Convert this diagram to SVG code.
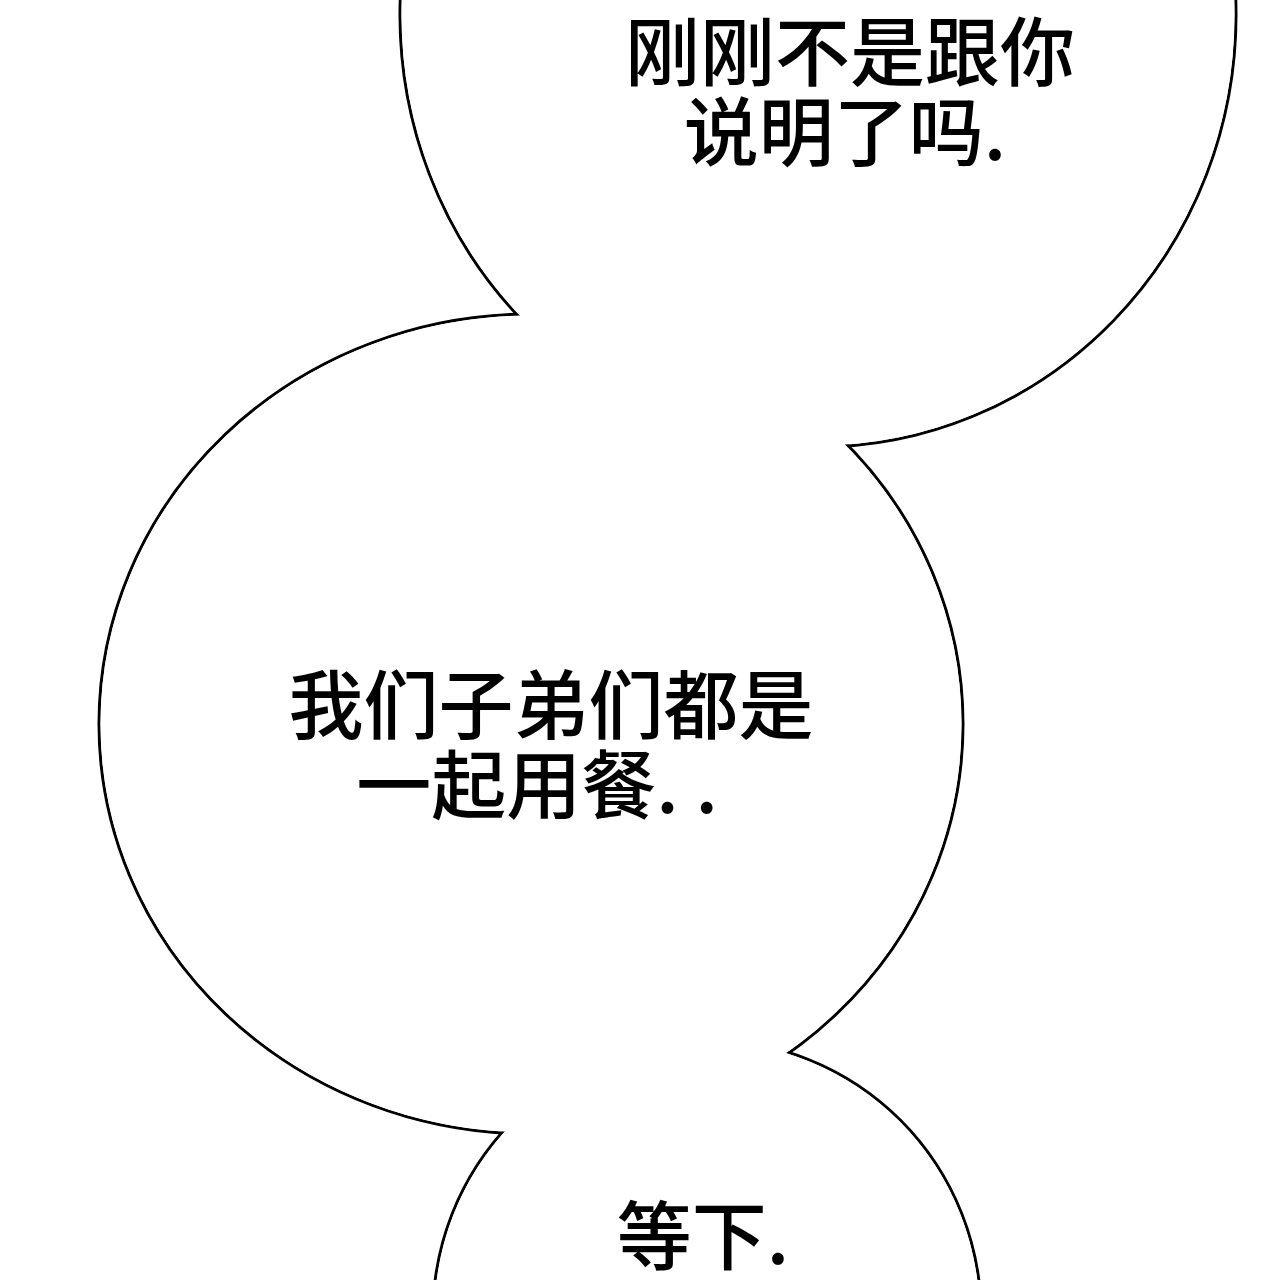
<svg xmlns="http://www.w3.org/2000/svg" width="1280" height="1280" viewBox="0 0 1280 1280">
<style>
.b{fill:#fff;stroke:#000;stroke-width:3}
.f{fill:#fff;stroke:none}
.t{font-family:"Noto Sans CJK SC","Noto Sans",sans-serif;font-size:75px;font-weight:500;fill:#000;text-anchor:middle}
</style>
<rect width="1280" height="1280" fill="#fff"/>
<g id="outlines">
<ellipse class="b" cx="818" cy="15" rx="418" ry="432"/>
<ellipse class="b" cx="531" cy="724" rx="432" ry="410"/>
<ellipse class="b" cx="707" cy="1315" rx="274" ry="275"/>
</g>
<g id="fills">
<ellipse class="f" cx="818" cy="15" rx="416.5" ry="430.5"/>
<ellipse class="f" cx="531" cy="724" rx="430.5" ry="408.5"/>
<ellipse class="f" cx="707" cy="1315" rx="272.5" ry="273.5"/>
</g>
<g id="bubble1"><text class="t" x="850" y="80">刚刚不是跟你</text><text class="t" x="845" y="160">说明了吗.</text></g>
<g id="bubble2"><text class="t" x="551" y="733">我们子弟们都是</text><text class="t" x="537" y="813">一起用餐. .</text></g>
<g id="bubble3"><text class="t" x="703" y="1264">等下.</text></g>
</svg>
